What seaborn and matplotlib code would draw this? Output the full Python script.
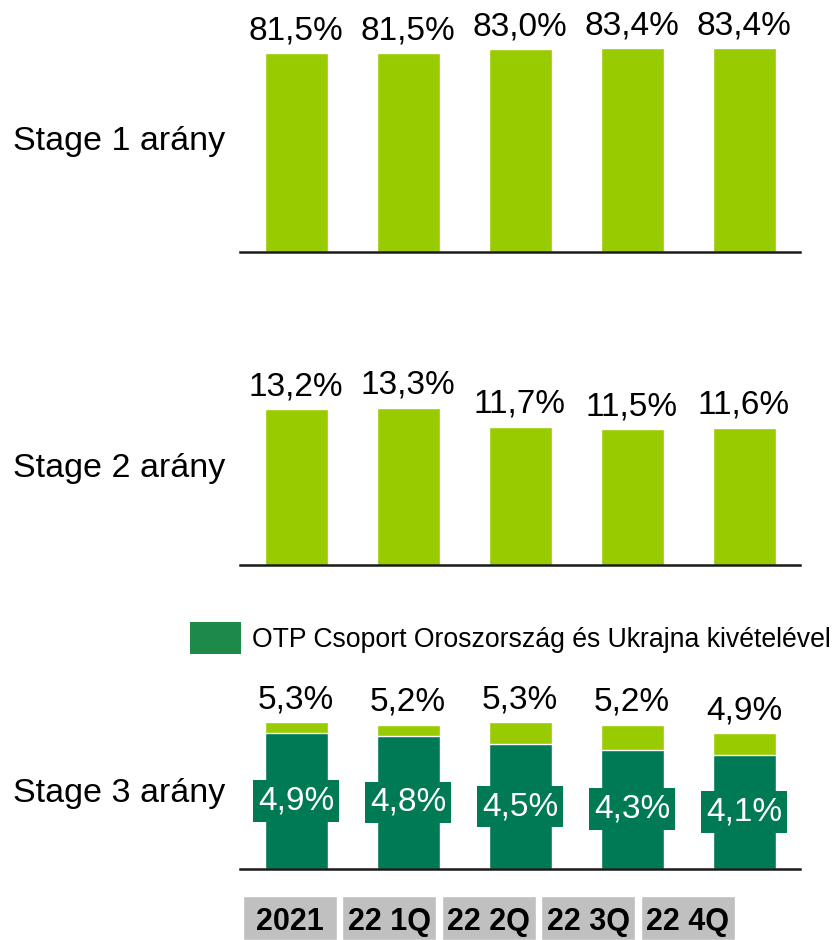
import matplotlib
matplotlib.use("Agg")
import matplotlib.pyplot as plt
from matplotlib.patches import Patch
import seaborn as sns
import pandas as pd

sns.set_theme(style="white")
plt.rcParams["font.family"] = ["Liberation Sans", "DejaVu Sans"]

# Periods and ratios (%)
periods = ["2021", "22 1Q", "22 2Q", "22 3Q", "22 4Q"]
stage1 = [81.5, 81.5, 83.0, 83.4, 83.4]
stage2 = [13.2, 13.3, 11.7, 11.5, 11.6]
stage3_total = [5.3, 5.2, 5.3, 5.2, 4.9]
stage3_excl = [4.9, 4.8, 4.5, 4.3, 4.1]
row_titles = ["Stage 1 arány", "Stage 2 arány", "Stage 3 arány"]
legend_label = "OTP Csoport Oroszország és Ukrajna kivételével"

LIGHT = "#99CC00"
DARK = "#007A55"
LEGEND_DARK = "#1E8A4A"
GREY = "#C0C0C0"

W, H = 835, 940
fig = plt.figure(figsize=(W / 100, H / 100), dpi=100)


def px_axes(left, top, right, bottom):
    return fig.add_axes([left / W, 1 - bottom / H, (right - left) / W, (bottom - top) / H])


def fmt(v):
    return f"{v:.1f}".replace(".", ",") + "%"


def style(ax, ymax):
    ax.set_xlim(-0.5, 4.5)
    ax.set_ylim(0, ymax)
    ax.set_xlabel("")
    ax.set_ylabel("")
    ax.set_xticks([])
    ax.set_yticks([])
    for s in ("top", "left", "right"):
        ax.spines[s].set_visible(False)
    ax.spines["bottom"].set_color("#1a1a1a")
    ax.spines["bottom"].set_linewidth(1.8)
    ax.patch.set_alpha(0)


def top_labels(ax, values):
    for i, v in enumerate(values):
        ax.annotate(fmt(v), (i, v), xytext=(0, 10), textcoords="offset points",
                    ha="center", va="baseline", fontsize=24, color="black")


BAR_W = 0.5625

# Stage 1
ax1 = px_axes(240, 0, 800, 252)
df1 = pd.DataFrame({"period": periods, "value": stage1})
sns.barplot(data=df1, x="period", y="value", color=LIGHT, saturation=1,
            width=BAR_W, ax=ax1)
style(ax1, 103.2)
top_labels(ax1, stage1)

# Stage 2
ax2 = px_axes(240, 330, 800, 565)
df2 = pd.DataFrame({"period": periods, "value": stage2})
sns.barplot(data=df2, x="period", y="value", color=LIGHT, saturation=1,
            width=BAR_W, ax=ax2)
style(ax2, 19.88)
top_labels(ax2, stage2)

# Stage 3: total with the excluded-countries part overlaid
ax3 = px_axes(240, 680, 800, 869)
df3 = pd.DataFrame({"period": periods, "total": stage3_total, "excl": stage3_excl})
sns.barplot(data=df3, x="period", y="total", color=LIGHT, saturation=1,
            width=BAR_W, ax=ax3)
sns.barplot(data=df3, x="period", y="excl", color=DARK, saturation=1,
            width=BAR_W, ax=ax3)
style(ax3, 6.81)
top_labels(ax3, stage3_total)
for i, v in enumerate(stage3_excl):
    ax3.text(i, v / 2, fmt(v), ha="center", va="center", fontsize=24, color="white",
             bbox=dict(boxstyle="square,pad=0.16", facecolor=DARK, edgecolor="none"))

# Row titles
for title, y in zip(row_titles, [150, 477, 802]):
    fig.text(13 / W, 1 - y / H, title, ha="left", va="baseline", fontsize=24.5, color="black")

# Legend
fig.legend(handles=[Patch(facecolor=LEGEND_DARK, edgecolor="none", label=legend_label)],
           loc="center left", bbox_to_anchor=(190 / W, 1 - 638 / H), frameon=False,
           fontsize=19.2, labelcolor="black", handlelength=1.9, handleheight=1.5,
           handletextpad=0.42, borderpad=0, borderaxespad=0)

# Period labels in grey boxes
axc = px_axes(240, 896, 737.5, 940)
dfc = pd.DataFrame({"period": periods, "box": [1] * len(periods)})
sns.barplot(data=dfc, x="period", y="box", color=GREY, saturation=1, width=0.94, ax=axc)
axc.set_xlim(-0.5, 4.5)
axc.set_ylim(0, 1)
axc.axis("off")
for i, p in enumerate(periods):
    axc.text(i, 0.42, p, ha="center", va="center", fontsize=22, fontweight="bold", color="black")

fig.savefig("out.png", dpi=100)
